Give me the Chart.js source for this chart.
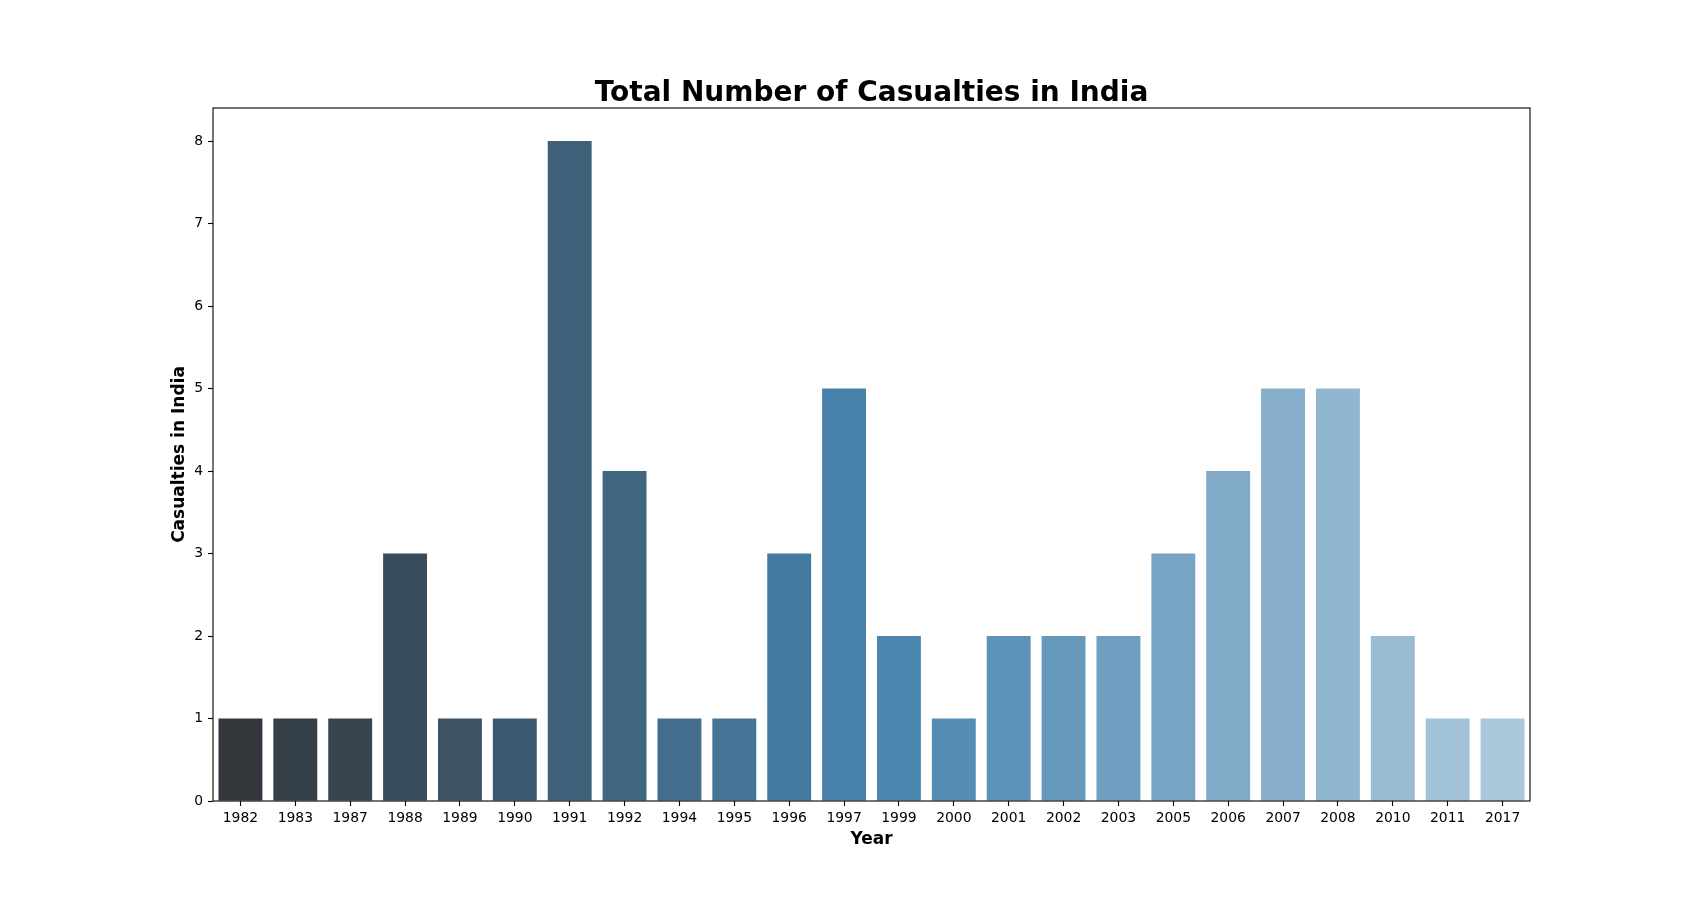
<!DOCTYPE html>
<html>
<head>
<meta charset="utf-8">
<title>Total Number of Casualties in India</title>
<script src="https://cdn.jsdelivr.net/npm/chart.js@4.4.1/dist/chart.umd.min.js"></script>
<style>
  html, body { margin: 0; padding: 0; background: #fff; }
  canvas { display: block; }
</style>
</head>
<body>
<canvas id="chart" width="1700" height="900"></canvas>
<script>
// Data
const years = ['1982', '1983', '1987', '1988', '1989', '1990', '1991', '1992', '1994', '1995', '1996', '1997',
               '1999', '2000', '2001', '2002', '2003', '2005', '2006', '2007', '2008', '2010', '2011', '2017'];
const casualties = [1, 1, 1, 3, 1, 1, 8, 4, 1, 1, 3, 5, 2, 1, 2, 2, 2, 3, 4, 5, 5, 2, 1, 1];
const yTicks = [0, 1, 2, 3, 4, 5, 6, 7, 8];

// Seaborn-like "Blues_d" palette: dark grey -> steel blue -> light blue, desaturated to 0.75
function rgbToHls(r, g, b) {
    r /= 255; g /= 255; b /= 255;
    const max = Math.max(r, g, b), min = Math.min(r, g, b);
    const l = (max + min) / 2;
    let h = 0, s = 0;
    if (max !== min) {
        const d = max - min;
        s = l > 0.5 ? d / (2 - max - min) : d / (max + min);
        if (max === r) h = ((g - b) / d + (g < b ? 6 : 0)) / 6;
        else if (max === g) h = ((b - r) / d + 2) / 6;
        else h = ((r - g) / d + 4) / 6;
    }
    return [h, l, s];
}

function hlsToRgb(h, l, s) {
    if (s === 0) return [l * 255, l * 255, l * 255];
    const hue2rgb = (p, q, t) => {
        if (t < 0) t += 1;
        if (t > 1) t -= 1;
        if (t < 1 / 6) return p + (q - p) * 6 * t;
        if (t < 1 / 2) return q;
        if (t < 2 / 3) return p + (q - p) * (2 / 3 - t) * 6;
        return p;
    };
    const q = l < 0.5 ? l * (1 + s) : l + s - l * s;
    const p = 2 * l - q;
    return [hue2rgb(p, q, h + 1 / 3) * 255, hue2rgb(p, q, h) * 255, hue2rgb(p, q, h - 1 / 3) * 255];
}

function buildPalette(n) {
    const stops = [[50, 56, 63], [55, 135, 192], [162, 201, 227]];
    const colors = [];
    for (let i = 0; i < n; i++) {
        const t = i / (n - 1) * (stops.length - 1);
        const k = Math.min(Math.floor(t), stops.length - 2);
        const f = t - k;
        const c = stops[k].map((v, j) => v + (stops[k + 1][j] - v) * f);
        const [h, l, s] = rgbToHls(c[0], c[1], c[2]);
        const rgb = hlsToRgb(h, l, s * 0.75).map(v => Math.round(v));
        colors.push(`rgb(${rgb[0]}, ${rgb[1]}, ${rgb[2]})`);
    }
    return colors;
}

const barColors = buildPalette(years.length);

// Draws the full axes box like matplotlib spines
const framePlugin = {
    id: 'frame',
    afterDatasetsDraw(chart) {
        const { ctx, chartArea } = chart;
        ctx.save();
        ctx.strokeStyle = '#000';
        ctx.lineWidth = 1.1;
        ctx.strokeRect(chartArea.left, chartArea.top, chartArea.right - chartArea.left, chartArea.bottom - chartArea.top);
        ctx.restore();
    }
};

Chart.defaults.font.family = "'DejaVu Sans', sans-serif";
Chart.defaults.color = '#000';

new Chart(document.getElementById('chart'), {
    type: 'bar',
    data: {
        labels: years,
        datasets: [{
            data: casualties,
            backgroundColor: barColors,
            borderWidth: 0,
            barPercentage: 0.8,
            categoryPercentage: 1.0
        }]
    },
    options: {
        responsive: false,
        animation: false,
        devicePixelRatio: 1,
        layout: { padding: { top: 50, left: 160, right: 170, bottom: 49 } },
        plugins: {
            legend: { display: false },
            tooltip: { enabled: false },
            title: {
                display: true,
                fullSize: false,
                text: 'Total Number of Casualties in India',
                color: '#000',
                font: { size: 28, weight: 'bold', lineHeight: 1 },
                padding: { top: 30, bottom: 0 }
            }
        },
        scales: {
            x: {
                offset: true,
                grid: { offset: false, drawOnChartArea: false, drawTicks: true, tickLength: 5, tickColor: '#000', tickWidth: 1.1 },
                border: { display: false },
                ticks: { color: '#000', font: { size: 13.9 }, padding: 4, maxRotation: 0, autoSkip: false },
                title: { display: true, text: 'Year', color: '#000', font: { size: 17, weight: 'bold' }, padding: { top: 0, bottom: 1 } },
                afterFit(scale) { scale.height = 50; }
            },
            y: {
                min: 0,
                max: Math.max(...casualties) * 1.05,
                grid: { drawOnChartArea: false, drawTicks: true, tickLength: 5, tickColor: '#000', tickWidth: 1.1 },
                border: { display: false },
                ticks: { color: '#000', font: { size: 13.9 }, padding: 5, stepSize: 1 },
                afterBuildTicks(scale) {
                    scale.ticks = yTicks.map(v => ({ value: v }));
                },
                title: { display: true, text: 'Casualties in India', color: '#000', font: { size: 17, weight: 'bold' }, padding: { top: 9, bottom: 0 } },
                afterFit(scale) { scale.width = 53; }
            }
        }
    },
    plugins: [framePlugin]
});
</script>
</body>
</html>
